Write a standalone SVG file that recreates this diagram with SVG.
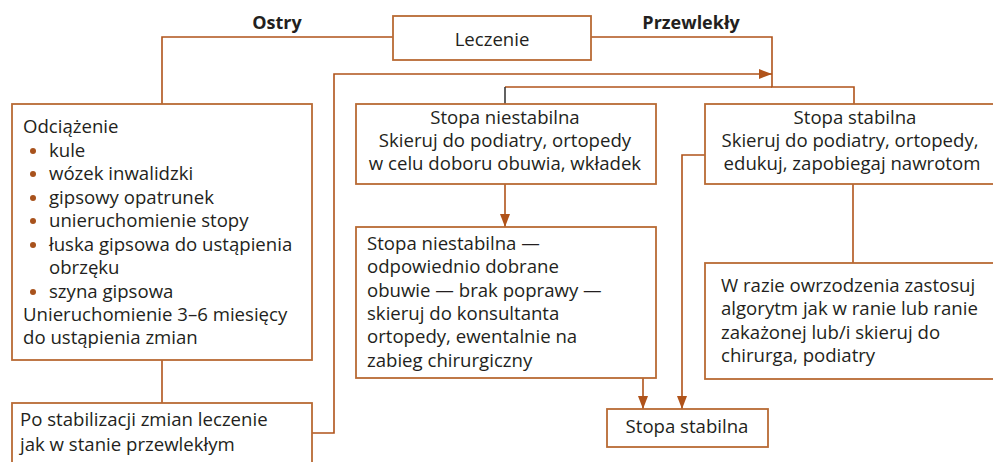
<svg xmlns="http://www.w3.org/2000/svg" width="993" height="462" viewBox="0 0 993 462">
<style>
.box{fill:#fff;stroke:#b86a34;stroke-width:1.8}
.ln{fill:none;stroke:#b0531a;stroke-width:1.6}
.t{font-family:"Open Sans","Noto Sans",sans-serif;font-size:18.6px;fill:#231f20}
.b{font-family:"Open Sans","Noto Sans",sans-serif;font-size:18px;font-weight:bold;fill:#231f20}
.m{text-anchor:middle}
.dot{fill:#a8521c}
</style>
<defs>
<marker id="ah" markerUnits="userSpaceOnUse" markerWidth="14" markerHeight="10" refX="13" refY="5" orient="auto">
<path d="M0,0 L13,5 L0,10 Z" fill="#b0531a"/>
</marker>
</defs>
<g id="connectors">
<path class="ln" d="M393,37 H162 V104"/>
<path class="ln" d="M162,360 V403"/>
<path class="ln" d="M312,433 H334 V74 H772" marker-end="url(#ah)"/>
<path class="ln" d="M591,37 H772 V87 H854 V104"/>
<path class="ln" d="M772,87 H505"/>
<path fill="none" stroke="#3a3a3a" stroke-width="1.6" d="M505,87 V104"/>
<path class="ln" d="M505,184 V227" marker-end="url(#ah)"/>
<path class="ln" d="M643,378 V409" marker-end="url(#ah)"/>
<path class="ln" d="M853,184 V263"/>
<path class="ln" d="M705,155 H682 V409" marker-end="url(#ah)"/>
</g>
<g id="labels">
<text class="b m" x="277" y="29">Ostry</text>
<text class="b m" x="691" y="29">Przewlekły</text>
</g>
<g id="leczenie">
<rect class="box" x="393" y="16" width="198" height="44"/>
<text class="t m" x="492" y="46">Leczenie</text>
</g>
<g id="ostry-box">
<rect class="box" x="12" y="104" width="300" height="256"/>
<text class="t" x="23" y="133">Odciążenie</text>
<circle class="dot" cx="33" cy="151" r="3"/>
<text class="t" x="49" y="157">kule</text>
<circle class="dot" cx="33" cy="174" r="3"/>
<text class="t" x="49" y="180">wózek inwalidzki</text>
<circle class="dot" cx="33" cy="198" r="3"/>
<text class="t" x="49" y="204">gipsowy opatrunek</text>
<circle class="dot" cx="33" cy="221" r="3"/>
<text class="t" x="49" y="227">unieruchomienie stopy</text>
<circle class="dot" cx="33" cy="245" r="3"/>
<text class="t" x="49" y="251">łuska gipsowa do ustąpienia</text>
<text class="t" x="49" y="274">obrzęku</text>
<circle class="dot" cx="33" cy="292" r="3"/>
<text class="t" x="49" y="298">szyna gipsowa</text>
<text class="t" x="23" y="321">Unieruchomienie 3–6 miesięcy</text>
<text class="t" x="23" y="344">do ustąpienia zmian</text>
</g>
<g id="po-stabilizacji">
<rect class="box" x="12" y="403" width="300" height="70"/>
<text class="t" x="20" y="426">Po stabilizacji zmian leczenie</text>
<text class="t" x="20" y="451">jak w stanie przewlekłym</text>
</g>
<g id="niestabilna">
<rect class="box" x="356" y="104" width="300" height="80"/>
<text class="t m" x="505" y="124">Stopa niestabilna</text>
<text class="t m" x="505" y="147">Skieruj do podiatry, ortopedy</text>
<text class="t m" x="505" y="170">w celu doboru obuwia, wkładek</text>
</g>
<g id="niestabilna2">
<rect class="box" x="356" y="227" width="300" height="151"/>
<text class="t" x="367" y="250">Stopa niestabilna —</text>
<text class="t" x="367" y="273">odpowiednio dobrane</text>
<text class="t" x="367" y="297">obuwie — brak poprawy —</text>
<text class="t" x="367" y="320">skieruj do konsultanta</text>
<text class="t" x="367" y="343">ortopedy, ewentalnie na</text>
<text class="t" x="367" y="367">zabieg chirurgiczny</text>
</g>
<g id="stabilna">
<rect class="box" x="705" y="104" width="300" height="80"/>
<text class="t m" x="855" y="124">Stopa stabilna</text>
<text class="t m" x="850" y="147">Skieruj do podiatry, ortopedy,</text>
<text class="t m" x="852" y="170">edukuj, zapobiegaj nawrotom</text>
</g>
<g id="owrzodzenie">
<rect class="box" x="705" y="263" width="300" height="116"/>
<text class="t" x="721" y="292">W razie owrzodzenia zastosuj</text>
<text class="t" x="721" y="315">algorytm jak w ranie lub ranie</text>
<text class="t" x="721" y="339">zakażonej lub/i skieruj do</text>
<text class="t" x="721" y="362">chirurga, podiatry</text>
</g>
<g id="stabilna-end">
<rect class="box" x="607" y="409" width="161" height="38"/>
<text class="t m" x="687" y="433">Stopa stabilna</text>
</g>
</svg>
